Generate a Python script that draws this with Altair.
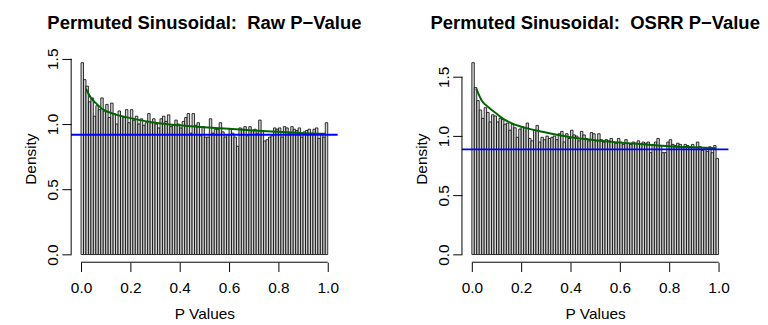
import altair as alt
import pandas as pd

# ---------------- data ----------------
bin_edges = [i / 100 for i in range(101)]

raw_density = [
    1.47, 1.34, 1.29, 1.17, 1.20, 1.06, 1.14, 1.11, 1.20, 1.10,
    1.15, 1.05, 1.16, 1.08, 1.00, 1.10, 1.06, 1.05, 1.11, 1.01,
    1.11, 1.03, 1.06, 1.00, 1.04, 0.99, 1.01, 1.08, 1.01, 1.04,
    1.00, 0.97, 1.04, 1.06, 1.02, 1.07, 0.98, 0.99, 1.03, 1.00,
    0.97, 1.02, 1.05, 1.08, 0.93, 1.08, 0.99, 1.01, 0.91, 0.98,
    0.90, 0.90, 1.04, 0.93, 0.96, 0.96, 1.01, 0.94, 0.90, 0.92,
    0.96, 0.93, 0.90, 0.83, 0.97, 0.96, 0.98, 0.91, 0.98, 0.95,
    0.96, 0.93, 1.03, 0.95, 0.87, 0.88, 0.90, 0.91, 0.97, 0.96,
    0.97, 0.90, 0.98, 0.97, 0.93, 0.98, 0.96, 0.95, 0.97, 0.90,
    0.94, 0.95, 0.96, 0.93, 0.96, 0.97, 0.89, 0.92, 0.90, 1.01,
]

osrr_density = [
    1.62, 1.41, 1.30, 1.22, 1.15, 1.24, 1.20, 1.12, 1.18, 1.17,
    1.12, 1.15, 1.14, 1.10, 1.11, 1.05, 1.10, 1.07, 0.99, 1.06,
    1.08, 1.07, 1.11, 0.98, 0.96, 1.05, 1.09, 0.95, 0.99, 0.97,
    1.00, 0.98, 0.99, 1.00, 0.97, 1.02, 1.04, 0.95, 1.02, 0.98,
    1.05, 1.01, 1.00, 0.96, 1.04, 1.01, 0.98, 0.96, 1.03, 1.02,
    0.96, 1.02, 0.97, 0.95, 0.97, 0.96, 0.98, 0.95, 0.94, 0.98,
    0.95, 0.93, 0.97, 0.94, 0.93, 0.95, 0.94, 0.96, 0.93, 0.95,
    0.94, 0.95, 0.86, 0.93, 0.95, 0.98, 0.92, 0.86, 0.86, 0.95,
    0.97, 0.93, 0.92, 0.94, 0.93, 0.91, 0.93, 0.92, 0.91, 0.93,
    0.89, 0.95, 0.91, 0.88, 0.90, 0.87, 0.91, 0.86, 0.92, 0.81,
]

raw_fit_x = [0.02, 0.04, 0.06, 0.09, 0.13, 0.2, 0.3, 0.4, 0.5, 0.6, 0.7, 0.8, 0.9, 0.99]
raw_fit_y = [1.27, 1.20, 1.16, 1.11, 1.08, 1.045, 1.01, 0.99, 0.975, 0.963, 0.95, 0.94, 0.93, 0.925]

osrr_fit_x = [0.018, 0.04, 0.07, 0.1, 0.124, 0.16, 0.2, 0.3, 0.4, 0.5, 0.6, 0.7, 0.8, 0.9, 0.99]
osrr_fit_y = [1.40, 1.30, 1.24, 1.19, 1.15, 1.11, 1.08, 1.03, 0.99, 0.965, 0.945, 0.93, 0.915, 0.905, 0.897]

raw_hline = 0.917
osrr_hline = 0.888

x_ticks = [0.0, 0.2, 0.4, 0.6, 0.8, 1.0]
y_ticks = [0.0, 0.5, 1.0, 1.5]

titles = ["Permuted Sinusoidal:\u00a0 Raw P\u2212Value", "Permuted Sinusoidal:\u00a0 OSRR P\u2212Value"]

# ---------------- styling ----------------
FONT = "Liberation Sans"
W, H = 270, 210
FS = 15.6


def panel(title, dens, fit_x, fit_y, hline):
    ymax = max(dens)
    ypad = 0.04 * ymax
    xs = alt.Scale(domain=[-0.04, 1.04], nice=False, zero=False)
    ys = alt.Scale(domain=[-ypad, ymax + ypad], nice=False, zero=False)

    bins = pd.DataFrame({"lo": bin_edges[:-1], "hi": bin_edges[1:], "d": dens})

    xaxis = alt.Axis(
        values=x_ticks, format=".1f", domain=False, grid=False,
        tickSize=9.4, tickColor="black", tickWidth=1,
        labelFont=FONT, labelFontSize=FS, labelColor="black", labelPadding=9,
        labelFlush=False, labelOverlap=False,
        title="P Values", titleFont=FONT, titleFontSize=FS, titleFontWeight="normal",
        titleColor="black", titleX=W / 2, titleY=57.5, titleBaseline="alphabetic",
        titleAlign="center",
    )
    yaxis = alt.Axis(
        values=y_ticks, format=".1f", domain=False, grid=False,
        tickSize=9.4, tickColor="black", tickWidth=1,
        labelFont=FONT, labelFontSize=FS, labelColor="black", labelPadding=4,
        labelAngle=270, labelAlign="center", labelBaseline="alphabetic",
        labelFlush=False, labelOverlap=False,
        title="Density", titleFont=FONT, titleFontSize=FS, titleFontWeight="normal",
        titleColor="black", titleAngle=270, titleX=-36, titleY=H / 2,
        titleBaseline="alphabetic", titleAlign="center",
    )

    bars = alt.Chart(bins).mark_rect(
        fill="#d3d3d3", stroke="black", strokeWidth=0.8
    ).encode(
        x=alt.X("lo:Q", scale=xs, axis=xaxis),
        x2="hi:Q",
        y=alt.Y("d:Q", scale=ys, axis=yaxis),
        y2=alt.datum(0),
    )

    fit = alt.Chart(pd.DataFrame({"fx": fit_x, "fy": fit_y})).mark_line(
        color="#006400", strokeWidth=2, interpolate="monotone"
    ).encode(
        x=alt.X("fx:Q", scale=xs, axis=xaxis),
        y=alt.Y("fy:Q", scale=ys, axis=yaxis),
    )

    blue = alt.Chart(pd.DataFrame({"h": [hline]})).mark_rule(
        color="#0000ff", strokeWidth=2
    ).encode(
        y=alt.Y("h:Q", scale=ys, axis=yaxis),
        x=alt.value(0),
        x2=alt.value(W),
    )

    xline = alt.Chart(pd.DataFrame({"a": [x_ticks[0]], "b": [x_ticks[-1]], "y": [-ypad]})).mark_rule(
        color="black", strokeWidth=1
    ).encode(
        x=alt.X("a:Q", scale=xs, axis=xaxis),
        x2="b:Q",
        y=alt.Y("y:Q", scale=ys, axis=yaxis),
    )

    yline = alt.Chart(pd.DataFrame({"x": [-0.04], "a": [y_ticks[0]], "b": [y_ticks[-1]]})).mark_rule(
        color="black", strokeWidth=1
    ).encode(
        x=alt.X("x:Q", scale=xs, axis=xaxis),
        y=alt.Y("a:Q", scale=ys, axis=yaxis),
        y2="b:Q",
    )

    ttl = alt.Chart(pd.DataFrame({"t": [title]})).mark_text(
        font=FONT, fontSize=18.7, fontWeight="bold", color="black",
        align="center", baseline="alphabetic",
    ).encode(
        text="t:N",
        x=alt.value(W / 2),
        y=alt.value(-26.3),
    )

    return alt.layer(bars, fit, blue, xline, yline, ttl).properties(width=W, height=H)


left = panel(titles[0], raw_density, raw_fit_x, raw_fit_y, raw_hline)
right = panel(titles[1], osrr_density, osrr_fit_x, osrr_fit_y, osrr_hline)

chart = alt.hconcat(left, right, spacing=126, bounds="flush").properties(
    padding={"left": 16, "top": 3.5, "right": 0, "bottom": 0},
    background="white",
).configure_view(strokeWidth=0)

chart.save("out.html", embed_options={"renderer": "svg", "actions": False})
